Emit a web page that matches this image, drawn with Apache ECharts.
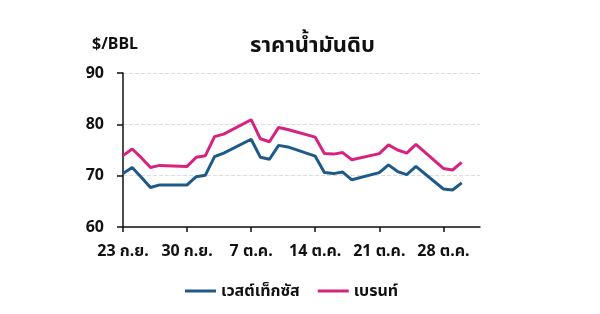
<!DOCTYPE html>
<html><head><meta charset="utf-8">
<script src="https://cdn.jsdelivr.net/npm/echarts@6/dist/echarts.min.js"></script>
<style>html,body{margin:0;padding:0;background:#fff}#c{width:600px;height:314px}</style>
</head><body><div id="c"></div>
<script>
// Days from 23 Sep to 1 Nov (weekends have no price)
const days = ['23/9','24/9','25/9','26/9','27/9','28/9','29/9','30/9','1/10','2/10','3/10','4/10','5/10','6/10','7/10','8/10','9/10','10/10','11/10','12/10','13/10','14/10','15/10','16/10','17/10','18/10','19/10','20/10','21/10','22/10','23/10','24/10','25/10','26/10','27/10','28/10','29/10','30/10','31/10','1/11'];
const tickLabels = {0:'23 ก.ย.',7:'30 ก.ย.',14:'7 ต.ค.',21:'14 ต.ค.',28:'21 ต.ค.',35:'28 ต.ค.'};
const wti = [70.4,71.6,69.7,67.7,68.2,null,null,68.2,69.8,70.1,73.7,74.4,null,null,77.1,73.6,73.2,75.9,75.6,null,null,73.8,70.6,70.4,70.7,69.2,null,null,70.6,72.1,70.8,70.2,71.8,null,null,67.4,67.2,68.6,null,null];
const brent = [73.9,75.2,73.5,71.6,72.0,null,null,71.8,73.6,73.9,77.6,78.1,null,null,80.9,77.2,76.6,79.4,79.0,null,null,77.5,74.3,74.2,74.5,73.1,null,null,74.3,76.0,75.0,74.4,76.1,null,null,71.4,71.1,72.6,null,null];
const yTicks = [60,70,80,90];
const names = ['เวสต์เท็กซัส','เบรนท์'];

const FONT = "'Noto Sans', 'Noto Sans Thai', Tahoma, sans-serif";
const chart = echarts.init(document.getElementById('c'), null, {renderer:'canvas'});
chart.setOption({
  animation:false,
  textStyle:{fontFamily:FONT},
  title:{text:'ราคาน้ำมันดิบ', left:245, top:30, textStyle:{fontSize:22, fontWeight:'bold', color:'#111', fontFamily:FONT}},
  graphic:[{type:'text', left:92, top:36, style:{text:'$/BBL', fontSize:16, fontWeight:'bold', fill:'#111', fontFamily:FONT}}],
  legend:{bottom:10, left:180, itemWidth:31, itemHeight:3, itemGap:18, icon:'rect',
    textStyle:{fontSize:16, fontWeight:'bold', color:'#111', fontFamily:FONT}, data:names},
  grid:{left:123, right:120, top:73, bottom:87, containLabel:false},
  xAxis:{type:'category', data:days, boundaryGap:false,
    axisLine:{lineStyle:{color:'#111', width:1.5}},
    axisTick:{interval:6, length:5, lineStyle:{color:'#111', width:1.5}},
    axisLabel:{interval:6, margin:16, fontSize:16, fontWeight:'bold', color:'#111', fontFamily:FONT,
      formatter:(v,i)=>tickLabels[i]||''},
    splitLine:{show:false}},
  yAxis:{type:'value', min:yTicks[0], max:yTicks[yTicks.length-1], interval:10,
    axisLine:{show:true, lineStyle:{color:'#111', width:1.5}},
    axisTick:{show:true, length:6, lineStyle:{color:'#111', width:1.5}},
    axisLabel:{margin:19, fontSize:16, fontWeight:'bold', color:'#111', fontFamily:FONT},
    splitLine:{show:true, lineStyle:{color:'#ddd', type:'dashed', width:1}}},
  series:[
    {name:names[0], type:'line', data:wti, connectNulls:true, showSymbol:false, symbol:'none',
      lineStyle:{color:'#1d5a8a', width:3}, itemStyle:{color:'#1d5a8a'}},
    {name:names[1], type:'line', data:brent, connectNulls:true, showSymbol:false, symbol:'none',
      lineStyle:{color:'#d6237f', width:3}, itemStyle:{color:'#d6237f'}}
  ]
});
</script></body></html>
